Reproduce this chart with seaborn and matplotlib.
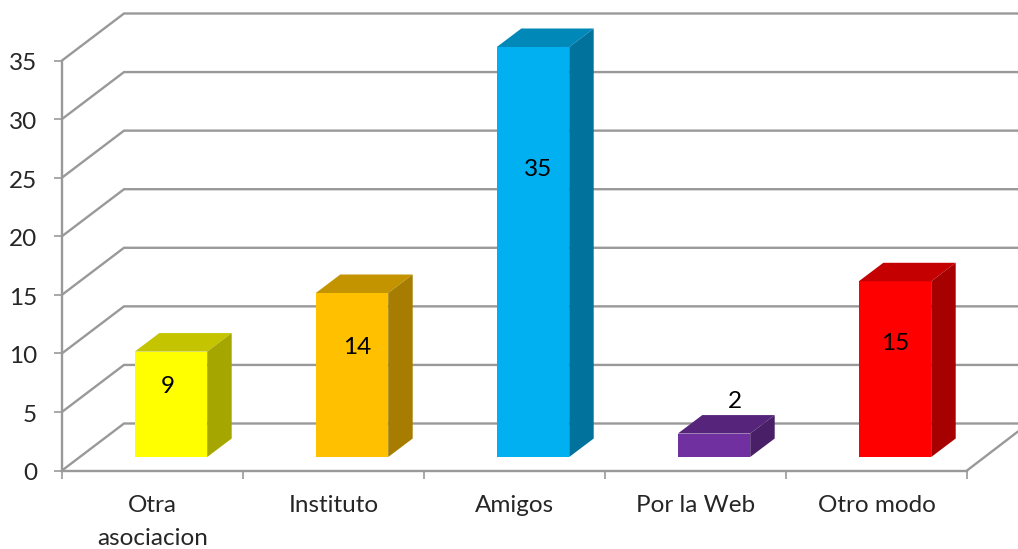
import matplotlib
matplotlib.use("Agg")
import matplotlib.pyplot as plt
import matplotlib.colors as mcolors
from matplotlib.patches import Polygon
from matplotlib.transforms import Affine2D
import pandas as pd
import seaborn as sns

categories = ["Otra\nasociacion", "Instituto", "Amigos", "Por la Web", "Otro modo"]
values = [9, 14, 35, 2, 15]
colors = ["#FFFF00", "#FFC000", "#00B0F0", "#7030A0", "#FF0000"]
y_ticks = [0, 5, 10, 15, 20, 25, 30, 35]

# value label offsets from the top front centre of each bar, in pixels
label_dx = [-3, 5, 5, 21, 0]
label_dy = [-35, -55, -122, 32, -62]

sns.set_style("white")
plt.rcParams["font.family"] = ["Lato", "DejaVu Sans"]

GRID = "#999999"
FS = 17.5
W, H = 1018, 549
fig = plt.figure(figsize=(W / 100, H / 100), dpi=100)
ax = fig.add_axes([62 / W, (H - 470.5) / H, 905 / W, 410 / H])

df = pd.DataFrame({"cat": categories, "val": values})
sns.barplot(data=df, x="cat", y="val", hue="cat", palette=colors, width=0.4,
            saturation=1, legend=False, linewidth=0, ax=ax)
ax.set_xlim(-0.5, 4.5)
ax.set_ylim(0, 35)

# pixels to data units
px = 1 / 181
py = 35 / 410

# back wall lines and floor
for v in y_ticks:
    ax.plot([-0.5, -0.5 + 62 * px, -0.5 + 956 * px], [v, v + 47 * py, v + 47 * py],
            color=GRID, lw=1.7, clip_on=False, zorder=2, solid_joinstyle="miter")
ax.plot([4.5, 4.5 + 51 * px], [0, 39 * py], color=GRID, lw=1.7, clip_on=False, zorder=2)

# shift fronts inside the box, then add top and side faces
for i, bar in enumerate(ax.patches):
    bar.set_x(bar.get_x() + 18.5 * px)
    bar.set_y(13.5 * py)
    bar.set_clip_on(False)
    bar.set_zorder(3)
    x0 = bar.get_x()
    x1 = x0 + bar.get_width()
    y0 = bar.get_y()
    y1 = y0 + bar.get_height()
    dx = 24.5 * px
    dy = 18.5 * py
    rgb = mcolors.to_rgb(colors[i])
    top = [c * 0.77 for c in rgb]
    side = [c * 0.65 for c in rgb]
    ax.add_patch(Polygon([(x0, y1), (x1, y1), (x1 + dx, y1 + dy), (x0 + dx, y1 + dy)],
                         facecolor=top, edgecolor="none", clip_on=False, zorder=3))
    ax.add_patch(Polygon([(x1, y0), (x1, y1), (x1 + dx, y1 + dy), (x1 + dx, y0 + dy)],
                         facecolor=side, edgecolor="none", clip_on=False, zorder=3))
    ax.annotate(str(values[i]), ((x0 + x1) / 2, y1), xytext=(label_dx[i] * 0.72, label_dy[i] * 0.72),
                textcoords="offset points", ha="center", va="center",
                fontsize=FS, color="black", zorder=4, annotation_clip=False)

ax.set_xlabel("")
ax.set_ylabel("")
ax.set_yticks(y_ticks)
ax.set_xticks([-0.5, 0.5, 1.5, 2.5, 3.5, 4.5], labels=[""] * 6)
ax.set_xticks(range(5), labels=categories, minor=True)
ax.tick_params(axis="y", which="major", length=5.8, width=1.2, color=GRID, pad=12,
               labelsize=FS, left=True)
ax.tick_params(axis="x", which="major", length=5.8, width=1.2, color=GRID, bottom=True)
ax.tick_params(axis="x", which="minor", length=0, pad=18, labelsize=FS)
for lab in ax.get_xticklabels(minor=True):
    lab.set_linespacing(1.7)
# y labels sit a little lower than centred on the tick
for lab in ax.get_yticklabels():
    lab.set_transform(lab.get_transform() + Affine2D().translate(0, -1.5))

sns.despine(ax=ax)
for side_name in ["left", "bottom"]:
    ax.spines[side_name].set_color(GRID)
    ax.spines[side_name].set_linewidth(1.7)

ax.patch.set_alpha(0)
fig.savefig("out.png", dpi=100, facecolor="white")
